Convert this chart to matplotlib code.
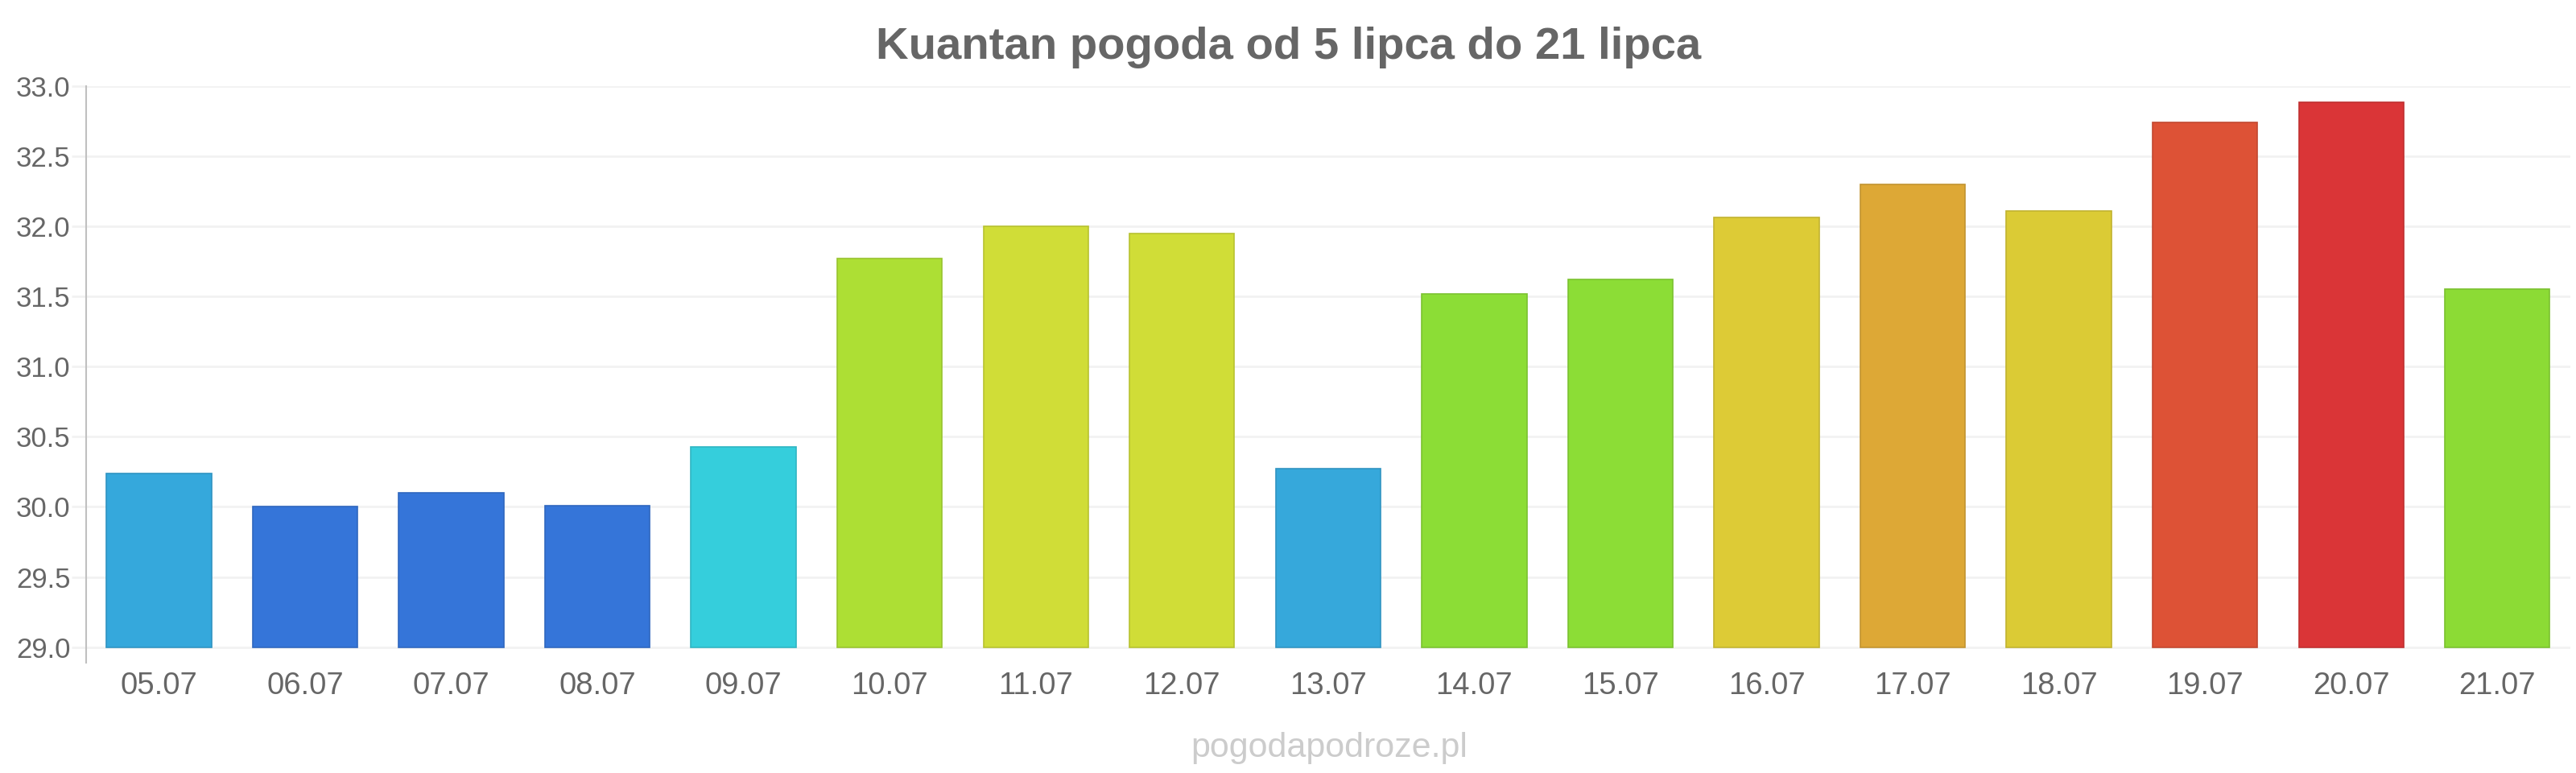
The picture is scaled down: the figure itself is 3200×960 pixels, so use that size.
import matplotlib
matplotlib.use("Agg")
import matplotlib.pyplot as plt
import numpy as np

plt.rcParams['font.family'] = ['Liberation Sans', 'DejaVu Sans']

dates = ["05.07", "06.07", "07.07", "08.07", "09.07", "10.07", "11.07", "12.07", "13.07",
         "14.07", "15.07", "16.07", "17.07", "18.07", "19.07", "20.07", "21.07"]
temps = [30.24, 30.0, 30.1, 30.01, 30.43, 31.77, 32.0, 31.95, 30.27,
         31.52, 31.62, 32.06, 32.3, 32.11, 32.74, 32.88, 31.55]
colors = ["#35a8dc", "#3575d9", "#3575d9", "#3575d9", "#35cedc", "#addf34", "#d0dd37", "#d0dd37",
          "#36a8db", "#8cdd36", "#8cdd36", "#ddcb36", "#dda836", "#dbcb35", "#dd5236", "#da3537", "#8cdb35"]
yticks = [29.0, 29.5, 30.0, 30.5, 31.0, 31.5, 32.0, 32.5, 33.0]
title = "Kuantan pogoda od 5 lipca do 21 lipca"
watermark = "pogodapodroze.pl"

W, H = 3200, 960
fig = plt.figure(figsize=(W / 100, H / 100), dpi=100)
left, right, top, bottom = 106.7, 3193, 106.5, 823
ax = fig.add_axes([left / W, 1 - bottom / H, (right - left) / W, (bottom - top) / H])

base = 29.0
x = np.arange(len(dates))
edge = [tuple(c * 0.88 for c in matplotlib.colors.to_rgb(col)) for col in colors]
ax.bar(x, np.array(temps) - base, bottom=base, width=0.718, color=colors,
       edgecolor=edge, linewidth=1.2, zorder=3)

ax.set_xlim(-0.5, len(dates) - 0.5)
ax.set_ylim(28.89, 33.0)
ax.set_yticks(yticks)
ax.set_yticklabels([f"{v:.1f}" for v in yticks])
ax.set_xticks(x)
ax.set_xticklabels(dates)

ax.grid(axis='y', color='#f2f2f2', linewidth=2, zorder=0)
ax.set_axisbelow(True)
for s in ['top', 'right', 'bottom']:
    ax.spines[s].set_visible(False)
ax.spines['left'].set_color('#c0c0c0')
ax.spines['left'].set_linewidth(1.5)

ax.tick_params(axis='y', length=13, width=2, color='#f2f2f2', pad=1,
               labelsize=25, labelcolor='#666666')
ax.tick_params(axis='x', length=0, pad=8, labelsize=27.5, labelcolor='#666666')

fig.text(1601 / W, 1 - 72.7 / H, title, ha='center', va='baseline',
         fontsize=40.5, fontweight='bold', color='#666666')
fig.text(1651 / W, 1 - 940 / H, watermark, ha='center', va='baseline',
         fontsize=31, color='#cccccc')

fig.savefig("out.png", dpi=100, facecolor='white')
